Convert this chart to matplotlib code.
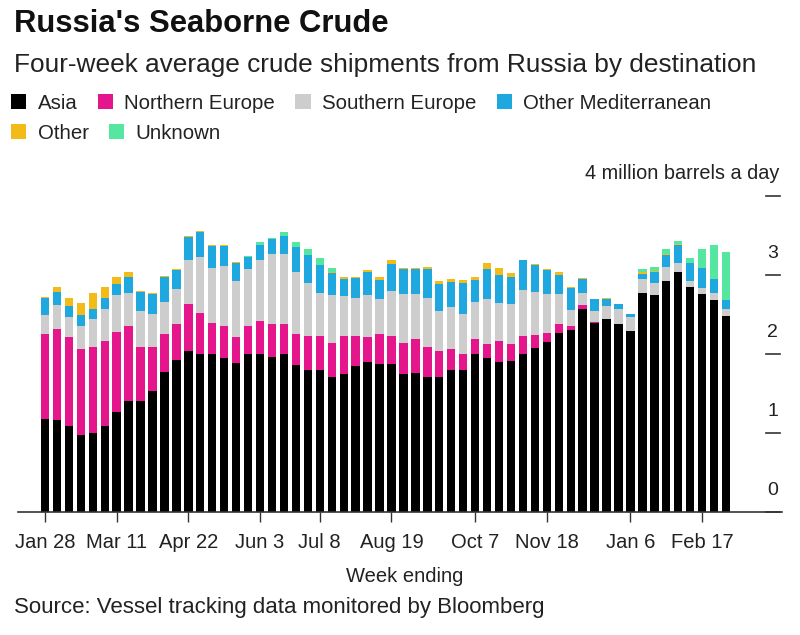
import matplotlib
matplotlib.use("Agg")
import matplotlib.pyplot as plt
import numpy as np
import pandas as pd

plt.rcParams['font.family'] = ['Liberation Sans', 'DejaVu Sans']

# weekly values, million barrels a day
asia = [1.17, 1.16, 1.08, 0.97, 0.99, 1.08, 1.26, 1.40, 1.40, 1.53,
        1.77, 1.92, 2.03, 2.00, 1.99, 1.95, 1.88, 2.00, 1.99, 1.96,
        1.99, 1.86, 1.79, 1.79, 1.71, 1.74, 1.84, 1.89, 1.87, 1.87,
        1.74, 1.76, 1.71, 1.71, 1.79, 1.80, 2.00, 1.95, 1.89, 1.91,
        2.00, 2.07, 2.15, 2.26, 2.30, 2.57, 2.39, 2.44, 2.38, 2.29,
        2.77, 2.74, 2.92, 3.03, 2.84, 2.75, 2.68, 2.48]
northern_europe = [1.08, 1.15, 1.13, 1.09, 1.10, 1.08, 1.01, 0.95, 0.69, 0.55,
                   0.48, 0.45, 0.60, 0.52, 0.40, 0.40, 0.33, 0.35, 0.42, 0.42,
                   0.39, 0.39, 0.43, 0.43, 0.43, 0.48, 0.38, 0.32, 0.38, 0.35,
                   0.40, 0.42, 0.37, 0.32, 0.27, 0.20, 0.18, 0.17, 0.27, 0.21,
                   0.22, 0.17, 0.11, 0.11, 0.05, 0.05, 0.01, 0.00, 0.00, 0.00,
                   0.00, 0.00, 0.00, 0.00, 0.00, 0.00, 0.00, 0.00]
southern_europe = [0.24, 0.31, 0.25, 0.29, 0.35, 0.41, 0.47, 0.42, 0.45, 0.42,
                   0.40, 0.45, 0.56, 0.70, 0.70, 0.76, 0.71, 0.72, 0.78, 0.88,
                   0.88, 0.79, 0.68, 0.55, 0.60, 0.51, 0.49, 0.53, 0.44, 0.57,
                   0.62, 0.58, 0.63, 0.51, 0.53, 0.50, 0.48, 0.57, 0.48, 0.51,
                   0.59, 0.54, 0.50, 0.39, 0.20, 0.15, 0.14, 0.17, 0.18, 0.17,
                   0.17, 0.15, 0.18, 0.12, 0.08, 0.08, 0.09, 0.08]
other_med = [0.21, 0.16, 0.14, 0.14, 0.12, 0.14, 0.14, 0.20, 0.24, 0.26,
             0.32, 0.24, 0.29, 0.32, 0.27, 0.25, 0.23, 0.15, 0.19, 0.19,
             0.23, 0.31, 0.35, 0.35, 0.28, 0.21, 0.25, 0.29, 0.24, 0.34,
             0.31, 0.31, 0.36, 0.34, 0.32, 0.39, 0.27, 0.38, 0.36, 0.34,
             0.37, 0.34, 0.30, 0.24, 0.28, 0.18, 0.15, 0.08, 0.07, 0.04,
             0.07, 0.15, 0.15, 0.23, 0.23, 0.25, 0.17, 0.12]
other = [0.02, 0.07, 0.11, 0.15, 0.21, 0.13, 0.09, 0.07, 0.01, 0.01,
         0.01, 0.01, 0.01, 0.01, 0.01, 0.01, 0.01, 0.00, 0.00, 0.00,
         0.00, 0.00, 0.00, 0.00, 0.02, 0.03, 0.01, 0.03, 0.04, 0.06,
         0.01, 0.01, 0.03, 0.04, 0.04, 0.04, 0.04, 0.08, 0.08, 0.05,
         0.01, 0.01, 0.01, 0.03, 0.01, 0.01, 0.00, 0.01, 0.00, 0.00,
         0.02, 0.01, 0.01, 0.01, 0.00, 0.00, 0.00, 0.00]
unknown = [0.00, 0.00, 0.00, 0.00, 0.00, 0.00, 0.00, 0.00, 0.00, 0.00,
           0.00, 0.00, 0.00, 0.00, 0.00, 0.00, 0.00, 0.02, 0.03, 0.02,
           0.05, 0.07, 0.08, 0.09, 0.05, 0.00, 0.00, 0.00, 0.00, 0.00,
           0.00, 0.00, 0.00, 0.00, 0.00, 0.00, 0.00, 0.00, 0.00, 0.00,
           0.00, 0.00, 0.00, 0.00, 0.00, 0.00, 0.00, 0.00, 0.00, 0.00,
           0.04, 0.05, 0.06, 0.04, 0.06, 0.25, 0.44, 0.61]

series_names = ["Asia", "Northern Europe", "Southern Europe",
                "Other Mediterranean", "Other", "Unknown"]
colors = ["#000000", "#e5168c", "#cdcdcd", "#1fa8e0", "#f3bb17", "#55e6a0"]

weeks = pd.date_range("2018-01-28", periods=len(asia), freq="7D")
week_labels = [f"{d:%b} {d.day}" for d in weeks]
tick_labels = ["Jan 28", "Mar 11", "Apr 22", "Jun 3", "Jul 8", "Aug 19",
               "Oct 7", "Nov 18", "Jan 6", "Feb 17"]
y_ticks = [0, 1, 2, 3, 4]

W, H = 800, 635
fig = plt.figure(figsize=(8, 6.35), dpi=100)
left, right, bottom, top = 18, 782, 511.7, 160
ax = fig.add_axes([left / W, (H - bottom) / H, (right - left) / W, (bottom - top) / H])

x = np.arange(len(asia))
base = np.zeros(len(asia))
handles = []
for name, vals, c in zip(series_names,
                         [asia, northern_europe, southern_europe, other_med, other, unknown],
                         colors):
    b = ax.bar(x, vals, bottom=base, width=0.7, color=c, label=name, linewidth=0)
    handles.append(b)
    base = base + np.array(vals)

px = 11.95
ax.set_xlim(-(45 - left) / px, len(asia) - 1 + (right - 726) / px)
ax.set_ylim(0, (bottom - top) / 79)

for s in ["top", "right", "left"]:
    ax.spines[s].set_visible(False)
ax.spines["bottom"].set_color("#333333")
ax.spines["bottom"].set_linewidth(1.2)

ax.set_yticks([])
tick_pos = [week_labels.index(t) for t in tick_labels]
ax.set_xticks(tick_pos)
ax.set_xticklabels(tick_labels, fontsize=14.5, color="#222222")
ax.tick_params(axis="x", length=7, width=1, color="#333333", pad=8, direction="out")

# right-side y ticks as short dashes with labels above
tr = ax.get_yaxis_transform()
for v in y_ticks:
    ax.plot([0.979, 0.997], [v, v], transform=tr, color="#333333", lw=1.2, clip_on=False)
    if v < 4:
        ax.text(0.988, v + 0.27, str(v), transform=tr, ha="center", va="center",
                fontsize=14, color="#222222")
ax.text(0.997, 4.28, "4 million barrels a day", transform=tr, ha="right", va="center",
        fontsize=14.3, color="#222222", clip_on=False)

fig.text(14 / W, 1 - 24 / H, "Russia's Seaborne Crude", fontsize=22.3, fontweight="bold",
         ha="left", va="center", color="#111111")
fig.text(14 / W, 1 - 65 / H, "Four-week average crude shipments from Russia by destination",
         fontsize=18.9, ha="left", va="center", color="#222222")

leg_kw = dict(frameon=False, fontsize=14.7, handlelength=0.75, handleheight=0.75,
              handletextpad=0.55, columnspacing=1.0, borderpad=0, borderaxespad=0,
              loc="upper left")
leg1 = fig.legend(handles[:4], series_names[:4], ncol=4,
                  bbox_to_anchor=(11 / W, 1 - 94 / H), **leg_kw)
leg2 = fig.legend(handles[4:], series_names[4:], ncol=2,
                  bbox_to_anchor=(11 / W, 1 - 124 / H), **leg_kw)
for leg in (leg1, leg2):
    for t in leg.get_texts():
        t.set_color("#222222")

fig.text(405 / W, 1 - 577 / H, "Week ending", fontsize=14.5, ha="center", va="center",
         color="#222222")
fig.text(14 / W, 1 - 608 / H, "Source: Vessel tracking data monitored by Bloomberg",
         fontsize=16, ha="left", va="center", color="#222222")

fig.savefig("out.png", dpi=100)
